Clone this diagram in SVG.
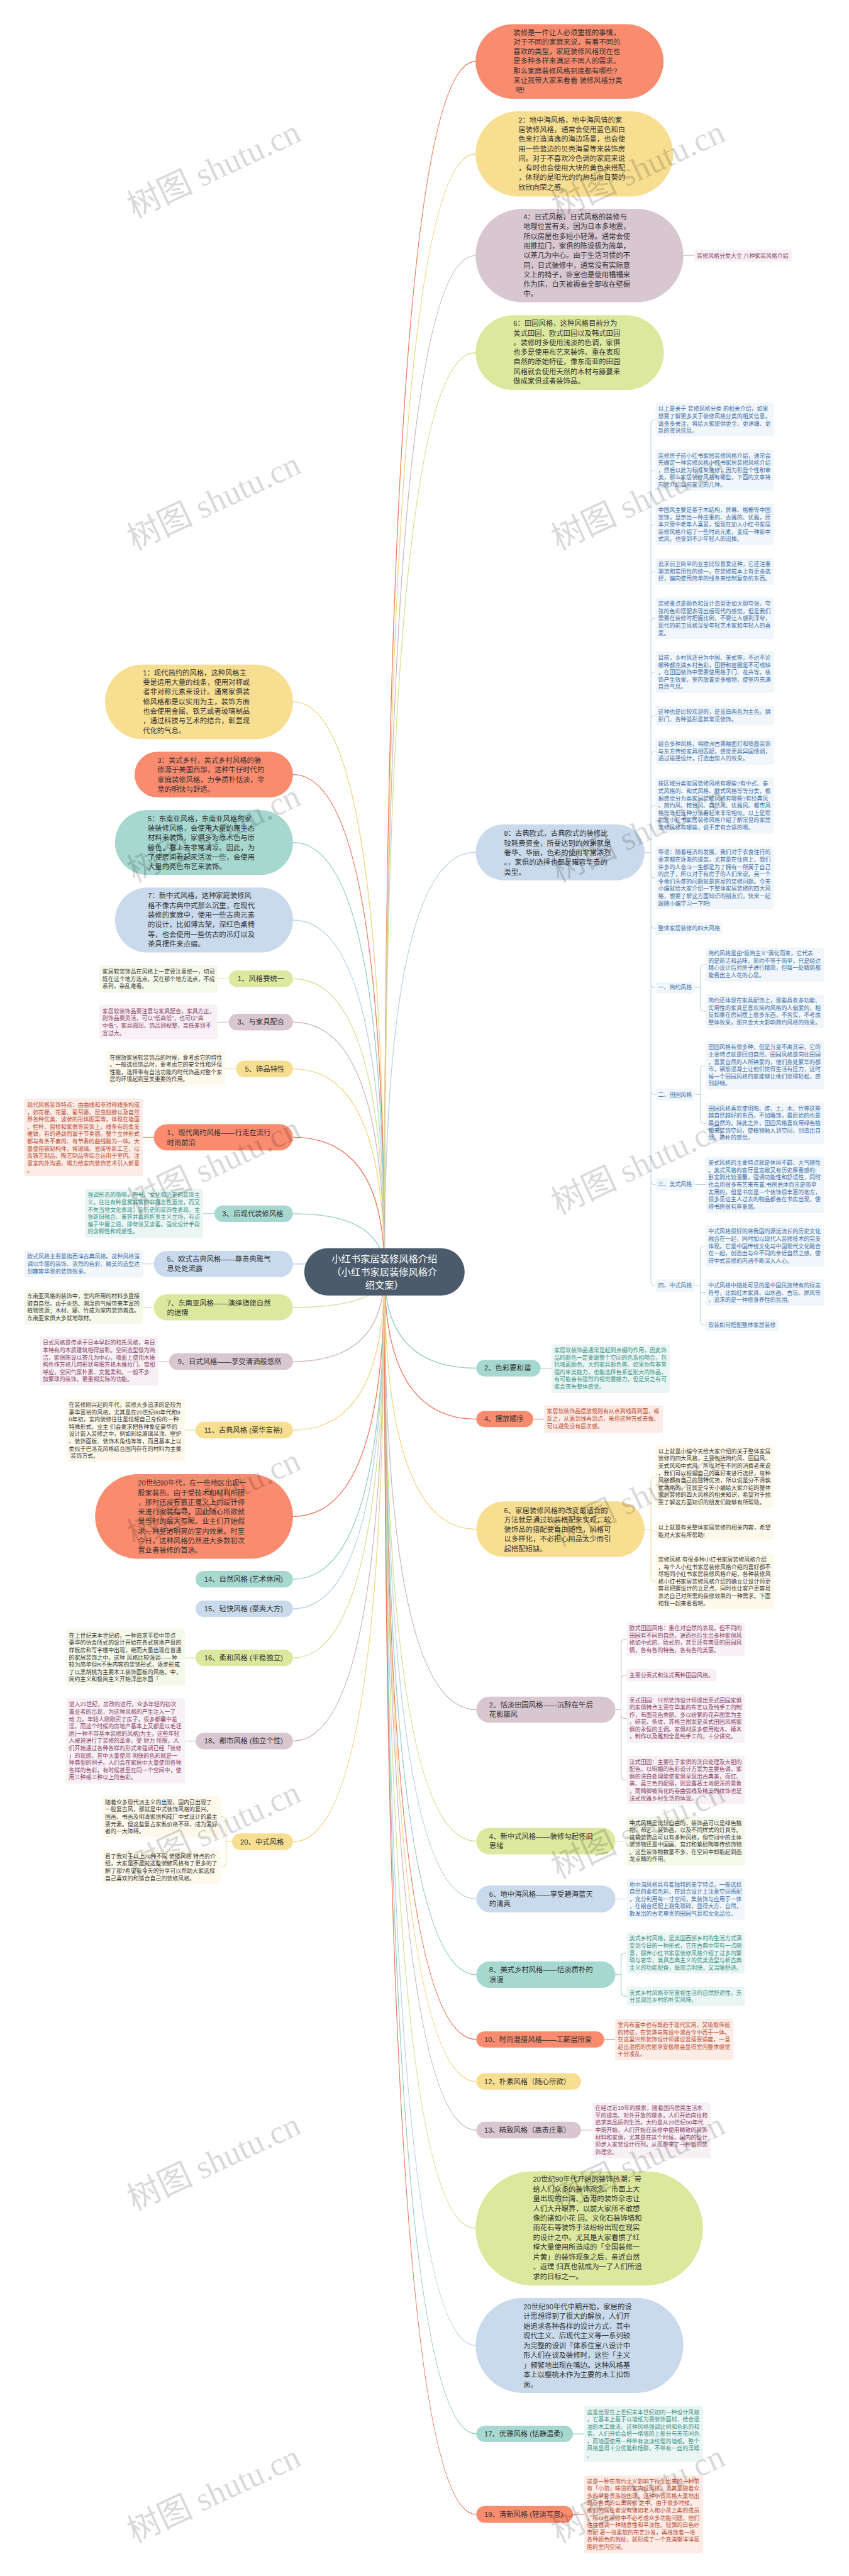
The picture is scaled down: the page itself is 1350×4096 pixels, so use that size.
<svg xmlns="http://www.w3.org/2000/svg" width="1350" height="4096" viewBox="0 0 1350 4096">
<style>
text{font-family:"Liberation Sans","Noto Sans CJK SC",sans-serif;dominant-baseline:central}
.t1{font-size:21.5px;fill:#333}
.t2{font-size:17px}
.rt{font-size:29px;fill:#fff;text-anchor:middle}
.fc{fill:#F98B6E}.fy{fill:#F8DE90}.fm{fill:#D8C6D1}.fg{fill:#DCE89E}.fb{fill:#C9DAEC}.ft{fill:#A6D8D0}
.bc{fill:#FDEBE6}.by{fill:#FEF9EA}.bm{fill:#F7F0F4}.bg{fill:#F5F9E9}.bb{fill:#F1F6FB}.bt{fill:#EBF6F4}
.xc{fill:#B84B30}.xy{fill:#3A3A3A}.xm{fill:#8C4268}.xg{fill:#3A3A3A}.xb{fill:#3D70A8}.xt{fill:#3A9489}
.l{fill:none;stroke-width:2.6}
.k{fill:none;stroke-width:2}
.sc{stroke:#EE7C60}.sy{stroke:#F2D684}.sm{stroke:#CDB8C5}.sg{stroke:#D2E290}.sb{stroke:#BBD0E6}.st{stroke:#92CCC4}
.wm{font-family:"Liberation Serif","Noto Sans CJK SC",serif;font-size:100px;fill:#000;fill-opacity:.15;text-anchor:middle}
</style>
<rect width="1350" height="4096" fill="#fff"/>
<g transform="scale(0.527)">
<g id="connectors">
<path class="l sc" d="M1160 3837Q1160 185.5 1435 185.5"/>
<path class="l sy" d="M1160 3837Q1160 464.5 1435 464.5"/>
<path class="l sm" d="M1160 3837Q1160 771 1435 771"/>
<path class="l sg" d="M1160 3837Q1160 1064 1435 1064"/>
<path class="l sb" d="M1160 3837Q1160 2571.5 1435 2571.5"/>
<path class="l st" d="M1160 3837Q1160 4128 1437 4128"/>
<path class="l sc" d="M1160 3837Q1160 4281.5 1437 4281.5"/>
<path class="l sy" d="M1160 3837Q1160 4614 1437 4614"/>
<path class="l sm" d="M1160 3837Q1160 5158.5 1437 5158.5"/>
<path class="l sg" d="M1160 3837Q1160 5555 1437 5555"/>
<path class="l sb" d="M1160 3837Q1160 5729.5 1437 5729.5"/>
<path class="l st" d="M1160 3837Q1160 5958 1437 5958"/>
<path class="l sc" d="M1160 3837Q1160 6153.5 1437 6153.5"/>
<path class="l sy" d="M1160 3837Q1160 6280 1437 6280"/>
<path class="l sm" d="M1160 3837Q1160 6427 1437 6427"/>
<path class="l sg" d="M1160 3837Q1160 6723.5 1435 6723.5"/>
<path class="l sb" d="M1160 3837Q1160 7076.5 1435 7076.5"/>
<path class="l st" d="M1160 3837Q1160 7343.5 1437 7343.5"/>
<path class="l sc" d="M1160 3837Q1160 7586.5 1437 7586.5"/>
<path class="l sy" d="M1160 3837Q1160 2117.5 884 2117.5"/>
<path class="l sc" d="M1160 3837Q1160 2337 884 2337"/>
<path class="l st" d="M1160 3837Q1160 2542 884 2542"/>
<path class="l sb" d="M1160 3837Q1160 2776 884 2776"/>
<path class="l sg" d="M1160 3837Q1160 2953 884 2953"/>
<path class="l sm" d="M1160 3837Q1160 3084 884 3084"/>
<path class="l sy" d="M1160 3837Q1160 3225 884 3225"/>
<path class="l sc" d="M1160 3837Q1160 3431.5 884 3431.5"/>
<path class="l st" d="M1160 3837Q1160 3662 884 3662"/>
<path class="l sb" d="M1160 3837Q1160 3813.5 884 3813.5"/>
<path class="l sg" d="M1160 3837Q1160 3944.5 884 3944.5"/>
<path class="l sm" d="M1160 3837Q1160 4108 884 4108"/>
<path class="l sy" d="M1160 3837Q1160 4315 884 4315"/>
<path class="l sc" d="M1160 3837Q1160 4575.5 884 4575.5"/>
<path class="l st" d="M1160 3837Q1160 4765 884 4765"/>
<path class="l sb" d="M1160 3837Q1160 4854 884 4854"/>
<path class="l sg" d="M1160 3837Q1160 5002 884 5002"/>
<path class="l sm" d="M1160 3837Q1160 5253 884 5253"/>
<path class="l sy" d="M1160 3837Q1160 5557 884 5557"/>
<path class="k sm" d="M2062 771H2095"/>
<path class="k st" d="M1631 4128H1664"/>
<path class="k sc" d="M1609 4281.5H1642"/>
<path class="k sg" d="M1857 5555H1891"/>
<path class="k sb" d="M1857 5729.5H1891"/>
<path class="k sc" d="M1823 6153.5H1856"/>
<path class="k sm" d="M1753 6427H1788"/>
<path class="k st" d="M1729 7343.5H1763"/>
<path class="k sc" d="M1729 7586.5H1763"/>
<path class="k sb" d="M2096 3574H2129"/>
<path class="k sg" d="M690 2953H657"/>
<path class="k sm" d="M690 3084H657"/>
<path class="k sy" d="M712 3225H679"/>
<path class="k sc" d="M464 3431.5H431"/>
<path class="k st" d="M647 3662H612"/>
<path class="k sb" d="M464 3813.5H431"/>
<path class="k sg" d="M464 3944.5H431"/>
<path class="k sm" d="M510 4108H478"/>
<path class="k sy" d="M590 4315H558"/>
<path class="k sg" d="M590 5002H558"/>
<path class="k sm" d="M590 5253H558"/>
<path class="k sb" d="M1945 2571.5H1964M1964 1278V3867M1964 1278Q1964 1266 1976 1266H1978M1964 1430.5Q1964 1418.5 1976 1418.5H1978M1964 1594Q1964 1582 1976 1582H1978M1964 1735.5Q1964 1723.5 1976 1723.5H1978M1964 1877.5Q1964 1865.5 1976 1865.5H1978M1964 2040Q1964 2028 1976 2028H1978M1964 2171Q1964 2159 1976 2159H1978M1964 2279Q1964 2267 1976 2267H1978M1964 2442.5Q1964 2430.5 1976 2430.5H1978M1964 2636.5Q1964 2648.5 1976 2648.5H1978M1964 2789Q1964 2801 1976 2801H1978M1964 2968Q1964 2980 1976 2980H1978M1964 3290.5Q1964 3302.5 1976 3302.5H1978M1964 3562Q1964 3574 1976 3574H1978M1964 3867Q1964 3879 1976 3879H1978"/>
<path class="k sb" d="M2096 2980H2113M2113 2922.5V3039.5M2113 2922.5Q2113 2910.5 2125 2910.5H2129M2113 3039.5Q2113 3051.5 2125 3051.5H2129"/>
<path class="k sb" d="M2096 3302.5H2113M2113 3226.5V3377.5M2113 3226.5Q2113 3214.5 2125 3214.5H2129M2113 3377.5Q2113 3389.5 2125 3389.5H2129"/>
<path class="k sb" d="M2096 3879H2113M2113 3771.5V3986M2113 3771.5Q2113 3759.5 2125 3759.5H2129M2113 3900.5H2129M2113 3986Q2113 3998 2125 3998H2129"/>
<path class="k sy" d="M1945 4614H1964M1964 4467.5V4759.5M1964 4467.5Q1964 4455.5 1976 4455.5H1978M1964 4619H1978M1964 4759.5Q1964 4771.5 1976 4771.5H1978"/>
<path class="k sm" d="M1857 5158.5H1874M1874 4958V5358.5M1874 4958Q1874 4946 1886 4946H1891M1874 5066.5Q1874 5054.5 1886 5054.5H1891M1874 5173Q1874 5185 1886 5185H1891M1874 5358.5Q1874 5370.5 1886 5370.5H1891"/>
<path class="k st" d="M1857 5958H1874M1874 5904.5V6011M1874 5904.5Q1874 5892.5 1886 5892.5H1891M1874 6011Q1874 6023 1886 6023H1891"/>
<path class="k sy" d="M700 5557H682M682 5493V5621M682 5493Q682 5481 670 5481H666M682 5621Q682 5633 670 5633H666"/>
</g>
<g id="R1"><rect class="fc" x="1435" y="73" width="567" height="225" rx="112.5"/><text class="t1"><tspan x="1549" y="98">装修是一件让人必须重视的事情，</tspan><tspan x="1549" y="127">对于不同的家庭来说，有着不同的</tspan><tspan x="1549" y="156">喜欢的类型，家庭装修风格现在也</tspan><tspan x="1549" y="185">是多种多样来满足不同人的需求。</tspan><tspan x="1549" y="214">那么家庭装修风格到底都有哪些?</tspan><tspan x="1549" y="243">来让我带大家来看看 装修风格分类</tspan><tspan x="1555" y="272">吧!</tspan></text></g>
<g id="R2"><rect class="fy" x="1435" y="336" width="596" height="257" rx="128.5"/><text class="t1"><tspan x="1564" y="362">2：地中海风格，地中海风情的家</tspan><tspan x="1564" y="391">居装修风格，通常会使用蓝色和白</tspan><tspan x="1564" y="420">色来打造清逸的海边场景，也会使</tspan><tspan x="1564" y="449">用一些蓝边的贝壳海星等来装饰房</tspan><tspan x="1564" y="478">间。对于不喜欢冷色调的家庭来说</tspan><tspan x="1564" y="507">，有时也会使用大块的黄色来搭配</tspan><tspan x="1564" y="536">，体现的是阳光的灼热与向日葵的</tspan><tspan x="1564" y="565">欣欣向荣之感。</tspan></text></g>
<g id="R3"><rect class="fm" x="1435" y="630" width="627" height="282" rx="141"/><text class="t1"><tspan x="1579" y="655">4：日式风格，日式风格的装修与</tspan><tspan x="1579" y="684">地理位置有关，因为日本多地震，</tspan><tspan x="1579" y="713">所以房屋也多短小轻薄。通常会使</tspan><tspan x="1579" y="742">用推拉门，家俱的陈设极为简单，</tspan><tspan x="1579" y="771">以茶几为中心。由于生活习惯的不</tspan><tspan x="1579" y="800">同，日式装修中，通常没有实际意</tspan><tspan x="1579" y="829">义上的椅子，卧室也是使用榻榻米</tspan><tspan x="1579" y="858">作为床，白天被褥会全部收在壁橱</tspan><tspan x="1579" y="887">中。</tspan></text></g>
<g id="R3c"><rect class="bm" x="2095" y="753" width="294" height="37" rx="6"/><text class="t2 xm" x="2103" y="771.5">装修风格分类大全 八种家装风格介绍</text></g>
<g id="R4"><rect class="fg" x="1435" y="951" width="568" height="226" rx="113"/><text class="t1"><tspan x="1549" y="976">6：田园风格，这种风格目前分为</tspan><tspan x="1549" y="1005">美式田园、欧式田园以及韩式田园</tspan><tspan x="1549" y="1034">。装修时多使用浅淡的色调，家俱</tspan><tspan x="1549" y="1063">也多是使用布艺来装饰。重在表现</tspan><tspan x="1549" y="1092">自然的原始特征，像东南亚的田园</tspan><tspan x="1549" y="1121">风格就会使用天然的木材与籐蔓来</tspan><tspan x="1549" y="1150">做成家俱或者装饰品。</tspan></text></g>
<g id="R5"><rect class="fb" x="1435" y="2487" width="510" height="169" rx="84.5"/><text class="t1"><tspan x="1521" y="2515">8：古典欧式，古典欧式的装修比</tspan><tspan x="1521" y="2544">较耗费资金，所要达到的效果就是</tspan><tspan x="1521" y="2573">奢华、华丽，色彩的使用非常浓烈</tspan><tspan x="1521" y="2602">。，家俱的选择也都是雍容华贵的</tspan><tspan x="1521" y="2631">类型。</tspan></text></g>
<g id="C1"><rect class="bb" x="1978" y="1215" width="357" height="102" rx="6"/><text class="t2 xb"><tspan x="1986" y="1234">以上是关于 装修风格分类 的相关介绍，如果</tspan><tspan x="1986" y="1256">想要了解更多关于装修风格分类的相关信息，</tspan><tspan x="1986" y="1278">请多多关注，将给大家提供更全、更详细、更</tspan><tspan x="1986" y="1300">新的资讯信息。</tspan></text></g>
<g id="C2"><rect class="bb" x="1978" y="1356" width="357" height="125" rx="6"/><text class="t2 xb"><tspan x="1986" y="1375">装修房子前小红书家居装修风格介绍，通常会</tspan><tspan x="1986" y="1397">先确定一种装修风格小红书家居装修风格介绍</tspan><tspan x="1986" y="1419">，然后以此为标准来装修，因为彰显个性和审</tspan><tspan x="1986" y="1441">美，那么家居装修风格有哪些，下面的文章将</tspan><tspan x="1986" y="1463">向您介绍目前常见的几种。</tspan></text></g>
<g id="C3"><rect class="bb" x="1978" y="1520" width="357" height="124" rx="6"/><text class="t2 xb"><tspan x="1986" y="1539">中国风主要是基于木结构，屏幕、格栅等中国</tspan><tspan x="1986" y="1561">装饰，显示出一种庄重的、古雅的、优雅，原</tspan><tspan x="1986" y="1583">本只受中老年人喜爱，但现在加入小红书家居</tspan><tspan x="1986" y="1605">装修风格介绍了一些时尚元素，变成一种新中</tspan><tspan x="1986" y="1627">式风，也受到不少年轻人的追捧。</tspan></text></g>
<g id="C4"><rect class="bb" x="1978" y="1683" width="357" height="81" rx="6"/><text class="t2 xb"><tspan x="1986" y="1702">追求前卫简单的业主比较喜爱这种，它还注重</tspan><tspan x="1986" y="1724">潮流和实用性的统一，在装修成本上有更多选</tspan><tspan x="1986" y="1746">择，偏向使用简单的线条来绘制复杂的东西。</tspan></text></g>
<g id="C5"><rect class="bb" x="1978" y="1803" width="357" height="125" rx="6"/><text class="t2 xb"><tspan x="1986" y="1822">装修重点是颜色和设计造型更加大胆夸张。夸</tspan><tspan x="1986" y="1844">张的色彩搭配表现出后现代的感觉，但是我们</tspan><tspan x="1986" y="1866">需要在装修时把握比例，不要让人感到浮夸，</tspan><tspan x="1986" y="1888">现代的前卫风格深受年轻艺术家和年轻人的喜</tspan><tspan x="1986" y="1910">爱。</tspan></text></g>
<g id="C6"><rect class="bb" x="1978" y="1966" width="357" height="124" rx="6"/><text class="t2 xb"><tspan x="1986" y="1985">目前，乡村风还分为中国、美式等，不过不论</tspan><tspan x="1986" y="2007">哪种都充满乡村色彩，田野和苗圃是不可或缺</tspan><tspan x="1986" y="2029">，在田园装饰中需要使用格子门、花卉等。装</tspan><tspan x="1986" y="2051">饰产生效果，室内放置更多植物，使室内充满</tspan><tspan x="1986" y="2073">自然气息。</tspan></text></g>
<g id="C7"><rect class="bb" x="1978" y="2129" width="357" height="60" rx="6"/><text class="t2 xb"><tspan x="1986" y="2148">这种也是比较欢迎的，是蓝白两色为主色，拱</tspan><tspan x="1986" y="2170">形门、各种弧形是其常见装饰。</tspan></text></g>
<g id="C8"><rect class="bb" x="1978" y="2227" width="357" height="80" rx="6"/><text class="t2 xb"><tspan x="1986" y="2245">组合多种风格，将欧洲古典釉面灯和墙面装饰</tspan><tspan x="1986" y="2267">与东方传统家具相匹配，感觉更具异国情调，</tspan><tspan x="1986" y="2289">通过碰撞设计，打造出惊人的效果。</tspan></text></g>
<g id="C9"><rect class="bb" x="1978" y="2346" width="357" height="169" rx="6"/><text class="t2 xb"><tspan x="1986" y="2365">按区域分类家居装修风格有哪些?有中式、泰</tspan><tspan x="1986" y="2387">式风格的、和式风格、欧式风格等等分类，根</tspan><tspan x="1986" y="2409">据感觉分为类家居装修风格有哪些?有经典风</tspan><tspan x="1986" y="2431">、简约风、精致风、自然风、优雅风、都市风</tspan><tspan x="1986" y="2453">格等等但这种分法看起来非常相似。以上是帮</tspan><tspan x="1986" y="2475">助您小红书家居装修风格介绍了解常见的家居</tspan><tspan x="1986" y="2497">装修风格有哪些，说不定有合适的哦。</tspan></text></g>
<g id="C10"><rect class="bb" x="1978" y="2554" width="357" height="189" rx="6"/><text class="t2 xb"><tspan x="1986" y="2572">导语：随着经济的发展，我们对于衣食住行的</tspan><tspan x="1986" y="2594">要求都在逐渐的提高，尤其是在住房上，我们</tspan><tspan x="1986" y="2616">许多的人奋斗一生都是为了拥有一所属于自己</tspan><tspan x="1986" y="2638">的房子，所以对于有房子的人们来说，另一个</tspan><tspan x="1986" y="2660">令他们头疼的问题就是房屋的装修问题。今天</tspan><tspan x="1986" y="2682">小编就给大家介绍一下整体家居装修的四大风</tspan><tspan x="1986" y="2704">格，想要了解这方面知识的朋友们，快来一起</tspan><tspan x="1986" y="2726">跟随小编学习一下吧!</tspan></text></g>
<g id="C11"><rect class="bb" x="1978" y="2782" width="202" height="38" rx="6"/><text class="t2 xb" x="1986" y="2801">整体家居装修的四大风格</text></g>
<g id="C12"><rect class="bb" x="1978" y="2962" width="118" height="36" rx="6"/><text class="t2 xb" x="1986" y="2980">一、简约风格</text></g>
<g id="C12a"><rect class="bb" x="2129" y="2859" width="357" height="103" rx="6"/><text class="t2 xb"><tspan x="2137" y="2877">简约风格是由“极简主义”演化而来，它代表</tspan><tspan x="2137" y="2899">的是简洁和品味。简约不等于简单，只是经过</tspan><tspan x="2137" y="2921">精心设计后对房子进行精简，但每一处精简都</tspan><tspan x="2137" y="2943">能看出主人花的心思。</tspan></text></g>
<g id="C12b"><rect class="bb" x="2129" y="3000" width="357" height="103" rx="6"/><text class="t2 xb"><tspan x="2137" y="3019">简约还体现在家具配饰上，那些具有多功能、</tspan><tspan x="2137" y="3041">实用性的家具是喜欢简约风格的人偏爱的，相</tspan><tspan x="2137" y="3063">反如果在房间摆上很多东西，不务实，不考虑</tspan><tspan x="2137" y="3085">整体效果，那只会大大影响简约风格的效果。</tspan></text></g>
<g id="C13"><rect class="bb" x="1978" y="3284" width="118" height="37" rx="6"/><text class="t2 xb" x="1986" y="3303">二、田园风格</text></g>
<g id="C13a"><rect class="bb" x="2129" y="3141" width="357" height="147" rx="6"/><text class="t2 xb"><tspan x="2137" y="3160">田园风格有很多种，但是万变不离其宗，它的</tspan><tspan x="2137" y="3182">主要特点就是回归自然。田园风格是向往田园</tspan><tspan x="2137" y="3204">，喜爱自然的人所钟爱的，他们身处繁华的都</tspan><tspan x="2137" y="3226">市，钢筋混凝土让他们觉得生活有压力，这时</tspan><tspan x="2137" y="3248">候一个田园风格的家能够让他们觉得轻松，感</tspan><tspan x="2137" y="3270">到舒畅。</tspan></text></g>
<g id="C13b"><rect class="bb" x="2129" y="3327" width="357" height="125" rx="6"/><text class="t2 xb"><tspan x="2137" y="3345">田园风格喜欢使用陶、砖、土、木、竹等这些</tspan><tspan x="2137" y="3367">越自然越好的东西，不加雕饰，最原始的也是</tspan><tspan x="2137" y="3389">最自然的。除此之外，田园风格喜欢用绿色植</tspan><tspan x="2137" y="3411">物来装饰空间，使植物融入到空间，创造出自</tspan><tspan x="2137" y="3433">然、简朴的感觉。</tspan></text></g>
<g id="C14"><rect class="bb" x="1978" y="3555" width="118" height="38" rx="6"/><text class="t2 xb" x="1986" y="3574">三、美式风格</text></g>
<g id="C14a"><rect class="bb" x="2129" y="3489" width="357" height="171" rx="6"/><text class="t2 xb"><tspan x="2137" y="3509">美式风格的主要特点就是休闲不羁、大气随性</tspan><tspan x="2137" y="3531">。美式风格的客厅是宽敞又有历史厚重感的;</tspan><tspan x="2137" y="3553">卧室则比较温馨，强调功能性和舒适性，同时</tspan><tspan x="2137" y="3575">也会用很多布艺来布置;书房总体而言是简单</tspan><tspan x="2137" y="3597">实用的，但是书房是一个装饰很丰富的地方，</tspan><tspan x="2137" y="3619">很多见证主人过去的物品都会在书房出现，使</tspan><tspan x="2137" y="3641">得书房很有厚重感。</tspan></text></g>
<g id="C15"><rect class="bb" x="1978" y="3860" width="118" height="38" rx="6"/><text class="t2 xb" x="1986" y="3879">四、中式风格</text></g>
<g id="C15a"><rect class="bb" x="2129" y="3696" width="357" height="127" rx="6"/><text class="t2 xb"><tspan x="2137" y="3716">中式风格很好的将我国的源远流长的历史文化</tspan><tspan x="2137" y="3738">融合在一起，同时加以现代人装修技术的完美</tspan><tspan x="2137" y="3760">体现。它是中国传统文化与中国现代文化融合</tspan><tspan x="2137" y="3782">在一起，创造出与众不同的亲近自然之感，使</tspan><tspan x="2137" y="3804">得中式装修的内涵不断深入人心。</tspan></text></g>
<g id="C15b"><rect class="bb" x="2129" y="3860" width="357" height="81" rx="6"/><text class="t2 xb"><tspan x="2137" y="3879">中式风格中随处可见的是中国民族特有的标志</tspan><tspan x="2137" y="3901">符号，比如红木家具、山水画、古玩、屏风等</tspan><tspan x="2137" y="3923">，追求的是一种修身养性的氛围。</tspan></text></g>
<g id="C15c"><rect class="bb" x="2129" y="3980" width="220" height="36" rx="6"/><text class="t2 xb" x="2137" y="3998">软装如何搭配整体家居装修</text></g>
<g id="R6"><rect class="ft" x="1437" y="4103" width="194" height="50" rx="25"/><text class="t1" x="1461" y="4128">2、色彩要和谐</text></g>
<g id="R6c"><rect class="bt" x="1664" y="4056" width="357" height="147" rx="6"/><text class="t2 xt"><tspan x="1672" y="4074">家居软装饰品通常是起到点缀的作用，因此饰</tspan><tspan x="1672" y="4096">品的颜色一定要跟整个空间的色系相吻合，包</tspan><tspan x="1672" y="4118">括墙面颜色，大的家具颜色等。如果你有非常</tspan><tspan x="1672" y="4140">强的审美能力，也能选择色系差别大的饰品，</tspan><tspan x="1672" y="4162">有可能会有强烈的视觉震撼力，但是反之有可</tspan><tspan x="1672" y="4184">能会丧失整体感觉。</tspan></text></g>
<g id="R7"><rect class="fc" x="1437" y="4257" width="172" height="49" rx="24.5"/><text class="t1" x="1461" y="4281.5">4、摆放顺序</text></g>
<g id="R7c"><rect class="bc" x="1642" y="4240" width="358" height="83" rx="6"/><text class="t2 xc"><tspan x="1650" y="4259">家居软装饰品摆放规则有从点到线再到面，或</tspan><tspan x="1650" y="4281">反之，从面到线再到点，采用这种方式去做，</tspan><tspan x="1650" y="4303">可以避免没有层次感。</tspan></text></g>
<g id="R8"><rect class="fy" x="1437" y="4530" width="508" height="168" rx="84"/><text class="t1"><tspan x="1521" y="4557">6、家居装修风格的改变最适合的</tspan><tspan x="1521" y="4586">方法就是通过软装搭配来实现，软</tspan><tspan x="1521" y="4615">装饰品的搭配要自由随性，风格可</tspan><tspan x="1521" y="4644">以多样化，不必担心用品太少而引</tspan><tspan x="1521" y="4673">起搭配短缺。</tspan></text></g>
<g id="R8a"><rect class="by" x="1978" y="4360" width="357" height="191" rx="6"/><text class="t2 xy"><tspan x="1986" y="4379">以上就是小编今天给大家介绍的关于整体家居</tspan><tspan x="1986" y="4401">装修的四大风格，主要包括简约风、田园风、</tspan><tspan x="1986" y="4423">美式风和中式风，所以对于不同的消费者来说</tspan><tspan x="1986" y="4445">，我们可以根据自己的喜好来进行选择，每种</tspan><tspan x="1986" y="4467">风格都有自己的独特优势，所以说是分不清孰</tspan><tspan x="1986" y="4489">优孰略的，这就是今天小编给大家介绍的整体</tspan><tspan x="1986" y="4511">家居装修的四大风格的相关知识，希望对于想</tspan><tspan x="1986" y="4533">要了解这方面知识的朋友们能够有所帮助。</tspan></text></g>
<g id="R8b"><rect class="by" x="1978" y="4590" width="357" height="58" rx="6"/><text class="t2 xy"><tspan x="1986" y="4609">以上就是有关整体家居装修的相关内容，希望</tspan><tspan x="1986" y="4631">能对大家有所帮助!</tspan></text></g>
<g id="R8c"><rect class="by" x="1978" y="4688" width="357" height="167" rx="6"/><text class="t2 xy"><tspan x="1986" y="4706">装修风格 有很多种小红书家居装修风格介绍</tspan><tspan x="1986" y="4728">，每个人小红书家居装修风格介绍的喜好都不</tspan><tspan x="1986" y="4750">尽相同小红书家居装修风格介绍，各种装修风</tspan><tspan x="1986" y="4772">格小红书家居装修风格介绍的确立让设计师更</tspan><tspan x="1986" y="4794">容易把握设计的立足点，同时也让客户更容易</tspan><tspan x="1986" y="4816">表达自己对所需的装修效果的一种需求。下面</tspan><tspan x="1986" y="4838">和我一起来看看吧。</tspan></text></g>
<g id="R9"><rect class="fm" x="1437" y="5119" width="420" height="79" rx="39.5"/><text class="t1"><tspan x="1476" y="5144">2、恬淡田园风格——沉醉在午后</tspan><tspan x="1476" y="5173">花影籐风</tspan></text></g>
<g id="R9a"><rect class="bm" x="1891" y="4895" width="356" height="102" rx="6"/><text class="t2 xm"><tspan x="1899" y="4913">欧式田园风格：重在对自然的表现，但不同的</tspan><tspan x="1899" y="4935">田园有不同的自然，进而也衍生出多种家俱风</tspan><tspan x="1899" y="4957">格如中式的、欧式的，甚至还有南亚的田园风</tspan><tspan x="1899" y="4979">情，各有各的特色，各有各的美丽。</tspan></text></g>
<g id="R9b"><rect class="bm" x="1891" y="5036" width="271" height="37" rx="6"/><text class="t2 xm" x="1899" y="5054.5">主要分英式和法式两种田园风格。</text></g>
<g id="R9c"><rect class="bm" x="1891" y="5112" width="356" height="146" rx="6"/><text class="t2 xm"><tspan x="1899" y="5130">英式田园：兴邦装饰设计师提出英式田园家俱</tspan><tspan x="1899" y="5152">的家俱特点主要在华美的布艺以及纯手工的制</tspan><tspan x="1899" y="5174">作，布面花色秀丽，多以纷繁的花卉图案为主</tspan><tspan x="1899" y="5196">，碎花、条纹、苏格兰图案是英式田园风格家</tspan><tspan x="1899" y="5218">俱的永恒的主调。家俱材质多使用松木、椿木</tspan><tspan x="1899" y="5240">，制作以及雕刻全是纯手工的，十分讲究。</tspan></text></g>
<g id="R9d"><rect class="bm" x="1891" y="5298" width="356" height="145" rx="6"/><text class="t2 xm"><tspan x="1899" y="5316">法式田园：主要在于家俱的洗白处理及大胆的</tspan><tspan x="1899" y="5338">配色，以明媚的色彩设计方案为主要色调，家</tspan><tspan x="1899" y="5360">俱的洗白处理能使家俱呈现出古典美，而红、</tspan><tspan x="1899" y="5382">黄、蓝三色的配搭，则显露著土地肥沃的景象</tspan><tspan x="1899" y="5404">，而椅脚被简化的卷曲弧线及精美的纹饰也是</tspan><tspan x="1899" y="5426">法式优雅乡村生活的体现。</tspan></text></g>
<g id="R10"><rect class="fg" x="1437" y="5515" width="420" height="80" rx="40"/><text class="t1"><tspan x="1476" y="5540">4、新中式风格——装修勾起怀旧</tspan><tspan x="1476" y="5569">思绪</tspan></text></g>
<g id="R10c"><rect class="bg" x="1891" y="5482" width="356" height="147" rx="6"/><text class="t2 xg"><tspan x="1899" y="5500">中式风格是比较自由的，装饰品可以是绿色植</tspan><tspan x="1899" y="5522">物、布艺、装饰画，以及不同样式的灯具等。</tspan><tspan x="1899" y="5544">这些装饰品可以有多种风格，但空间中的主体</tspan><tspan x="1899" y="5566">装饰物还是中国画、宫灯和紫砂陶等传统饰物</tspan><tspan x="1899" y="5588">。这些装饰物数量不多，在空间中却能起到画</tspan><tspan x="1899" y="5610">龙点睛的作用。</tspan></text></g>
<g id="R11"><rect class="fb" x="1437" y="5689" width="420" height="81" rx="40.5"/><text class="t1"><tspan x="1476" y="5715">6、地中海风格——享受碧海蓝天</tspan><tspan x="1476" y="5744">的清爽</tspan></text></g>
<g id="R11c"><rect class="bb" x="1891" y="5667" width="356" height="125" rx="6"/><text class="t2 xb"><tspan x="1899" y="5686">地中海风格具有着独特的美学特点。一般选择</tspan><tspan x="1899" y="5708">自然的柔和色彩，在组合设计上注意空间搭配</tspan><tspan x="1899" y="5730">，充分利用每一寸空间，集装饰与应用于一体</tspan><tspan x="1899" y="5752">，在组合搭配上避免琐碎，显得大方、自然，</tspan><tspan x="1899" y="5774">散发出的古老尊贵的田园气息和文化品位。</tspan></text></g>
<g id="R12"><rect class="ft" x="1437" y="5918" width="420" height="80" rx="40"/><text class="t1"><tspan x="1476" y="5944">8、美式乡村风格——恬淡质朴的</tspan><tspan x="1476" y="5973">浪漫</tspan></text></g>
<g id="R12a"><rect class="bt" x="1891" y="5830" width="356" height="125" rx="6"/><text class="t2 xt"><tspan x="1899" y="5849">美式乡村风格，是美国西部乡村的生活方式演</tspan><tspan x="1899" y="5871">变到今日的一种形式，它在古典中带有一点随</tspan><tspan x="1899" y="5893">意，摒弃小红书家居装修风格介绍了过多的繁</tspan><tspan x="1899" y="5915">琐与奢华，兼具古典主义的优美造型与新古典</tspan><tspan x="1899" y="5937">主义的功能配备，既简洁明快，又温暖舒适。</tspan></text></g>
<g id="R12b"><rect class="bt" x="1891" y="5994" width="356" height="58" rx="6"/><text class="t2 xt"><tspan x="1899" y="6013">美式乡村风格非常重视生活的自然舒适性，充</tspan><tspan x="1899" y="6035">分显现出乡村的朴实风味。</tspan></text></g>
<g id="R13"><rect class="fc" x="1437" y="6129" width="386" height="49" rx="24.5"/><text class="t1" x="1461" y="6154">10、时尚混搭风格——工薪层所爱</text></g>
<g id="R13c"><rect class="bc" x="1856" y="6091" width="357" height="125" rx="6"/><text class="t2 xc"><tspan x="1864" y="6110">室内布置中也有既趋于现代实用，又吸取传统</tspan><tspan x="1864" y="6132">的特征，在装潢与陈设中溶古今中西于一体。</tspan><tspan x="1864" y="6154">在这里兴邦装饰设计师建议混搭要适度，一旦</tspan><tspan x="1864" y="6176">超出混搭的房屋承受极限会显得室内整体感觉</tspan><tspan x="1864" y="6198">十分凌乱。</tspan></text></g>
<g id="R14"><rect class="fy" x="1437" y="6255" width="316" height="50" rx="25"/><text class="t1" x="1461" y="6280">12、朴素风格（随心所欲）</text></g>
<g id="R15"><rect class="fm" x="1437" y="6402" width="316" height="50" rx="25"/><text class="t1" x="1461" y="6427">13、精致风格（高贵庄重）</text></g>
<g id="R15c"><rect class="bm" x="1788" y="6343" width="356" height="169" rx="6"/><text class="t2 xm"><tspan x="1796" y="6361">在经过近10年的摸索，随着国内居民生活水</tspan><tspan x="1796" y="6383">平的提高、对外开放的增多，人们开始向往和</tspan><tspan x="1796" y="6405">追求高品质的生活。大约是从20世纪90年代</tspan><tspan x="1796" y="6427">中期开始，人们开始在装修中使用精致的装饰</tspan><tspan x="1796" y="6449">材料和家俱，尤其是在这个时候，国内的设计</tspan><tspan x="1796" y="6471">师步入家装设计行列，从而带来了一种新的装</tspan><tspan x="1796" y="6493">饰理念。</tspan></text></g>
<g id="R16"><rect class="fg" x="1435" y="6551" width="686" height="345" rx="172.5"/><text class="t1"><tspan x="1608" y="6575">20世纪90年代开始的装饰热潮，带</tspan><tspan x="1608" y="6604.4">给人们众多的装饰观念。市面上大</tspan><tspan x="1608" y="6633.8">量出现的台湾、香港的装饰杂志让</tspan><tspan x="1608" y="6663.2">人们大开眼界，以前大家所不敢想</tspan><tspan x="1608" y="6692.6">像的诸如小花 园、文化石装饰墙和</tspan><tspan x="1608" y="6722">雨花石等装饰手法纷纷出现在现实</tspan><tspan x="1608" y="6751.4">的设计之中。尤其是大家看惯了红</tspan><tspan x="1608" y="6780.8">榉大量使用所造成的「全国装修一</tspan><tspan x="1608" y="6810.2">片黄」的装饰现象之后，亲近自然</tspan><tspan x="1608" y="6839.6">、返璞 归真也就成为一了人们所追</tspan><tspan x="1608" y="6869">求的目标之一。</tspan></text></g>
<g id="R17"><rect class="fb" x="1435" y="6933" width="627" height="287" rx="143.5"/><text class="t1"><tspan x="1579" y="6960">20世纪90年代中期开始，家居的设</tspan><tspan x="1579" y="6989.4">计思想得到了很大的解放，人们开</tspan><tspan x="1579" y="7018.8">始追求各种各样的设计方式，其中</tspan><tspan x="1579" y="7048.2">现代主义、后现代主义等一系列较</tspan><tspan x="1579" y="7077.6">为完整的设训『体系住室八设计中</tspan><tspan x="1579" y="7107">形人们在谈及装修时，这些「主义</tspan><tspan x="1579" y="7136.4">」频繁地出现在嘴边。这种风格基</tspan><tspan x="1579" y="7165.8">本上以樱桃木作为主要的木工扣饰</tspan><tspan x="1579" y="7195.2">面。</tspan></text></g>
<g id="R18"><rect class="ft" x="1437" y="7319" width="292" height="49" rx="24.5"/><text class="t1" x="1461" y="7343.5">17、优雅风格 (恬静温柔)</text></g>
<g id="R18c"><rect class="bt" x="1763" y="7259" width="358" height="170" rx="6"/><text class="t2 xt"><tspan x="1771" y="7278">这是出现在上世纪末本世纪初的一种设计风格</tspan><tspan x="1771" y="7300">，它基本上基于以墙纸为要装饰面材、结合混</tspan><tspan x="1771" y="7322">油的木工做法。这种风格强调比例和色彩的和</tspan><tspan x="1771" y="7344">谐。人们开始会把一堵墙的上部分与天花同色</tspan><tspan x="1771" y="7366">，而墙面使用一种带有淡淡纹理的墙纸。整个</tspan><tspan x="1771" y="7388">风格显得十分优雅和恬静，不带有一丝的浮躁</tspan><tspan x="1771" y="7410">。</tspan></text></g>
<g id="R19"><rect class="fc" x="1437" y="7561" width="292" height="51" rx="25.5"/><text class="t1" x="1461" y="7586.5">19、清新风格 (轻淡写意)</text></g>
<g id="R19c"><rect class="bc" x="1763" y="7469" width="358" height="235" rx="6"/><text class="t2 xc"><tspan x="1771" y="7487">这是一种在简约主义影响下衍生出来的一种带</tspan><tspan x="1771" y="7509">有「小资」味道的室内设风格。尤其是随着众</tspan><tspan x="1771" y="7531">多的单身贵族的出现，这种小资风格大量地出</tspan><tspan x="1771" y="7553">现在各式的公寓装修 之中。由于很多时候，</tspan><tspan x="1771" y="7575">他们的居住者没有诸如老人和小孩之类的成员</tspan><tspan x="1771" y="7597">，所以在装修中不必考虑众多功能问题。他们</tspan><tspan x="1771" y="7619">往往强调一种随意性和平淡性。轻飘的白色纱</tspan><tspan x="1771" y="7641">市配 著一张柔软的布艺沙发，再堆放着一堆</tspan><tspan x="1771" y="7663">各种颜色的抱枕，就形成了一个充满懒洋洋氛</tspan><tspan x="1771" y="7685">围的室内空间。</tspan></text></g>
<g id="L1"><rect class="fy" x="317" y="2005" width="567" height="225" rx="112.5"/><text class="t1"><tspan x="431" y="2030">1：现代简约的风格，这种风格主</tspan><tspan x="431" y="2059">要是运用大量的线条，使用对称或</tspan><tspan x="431" y="2088">者非对称元素来设计。通常家俱装</tspan><tspan x="431" y="2117">修风格都是以实用为主，装饰方面</tspan><tspan x="431" y="2146">也会使用金属、铁艺或者玻璃制品</tspan><tspan x="431" y="2175">，通过科技与艺术的结合，彰显现</tspan><tspan x="431" y="2204">代化的气息。</tspan></text></g>
<g id="L2"><rect class="fc" x="406" y="2268" width="478" height="138" rx="69"/><text class="t1"><tspan x="475" y="2294">3：美式乡村，美式乡村风格的装</tspan><tspan x="475" y="2323">修源于美国西部，这种牛仔时代的</tspan><tspan x="475" y="2352">家庭装修风格，力争质朴恬淡，非</tspan><tspan x="475" y="2381">常的明快与舒适。</tspan></text></g>
<g id="L3"><rect class="ft" x="347" y="2444" width="537" height="196" rx="98"/><text class="t1"><tspan x="446" y="2470">5：东南亚风格，东南亚风格的家</tspan><tspan x="446" y="2499">装装修风格，会使用大量的原生态</tspan><tspan x="446" y="2528">材料来装饰，家俱多为原木色与原</tspan><tspan x="446" y="2557">籐色，看上去非常清凉。因此，为</tspan><tspan x="446" y="2586">了使房间看起来活泼一些，会使用</tspan><tspan x="446" y="2615">大量的亮色布艺来装饰。</tspan></text></g>
<g id="L4"><rect class="fb" x="347" y="2678" width="537" height="196" rx="98"/><text class="t1"><tspan x="446" y="2703">7：新中式风格，这种家庭装修风</tspan><tspan x="446" y="2732">格不像古典中式那么沉重，在现代</tspan><tspan x="446" y="2761">装修的家庭中，使用一些古典元素</tspan><tspan x="446" y="2790">的设计，比如博古架，深红色桌椅</tspan><tspan x="446" y="2819">等，也会使用一些仿古的吊灯以及</tspan><tspan x="446" y="2848">茶具摆件来点缀。</tspan></text></g>
<g id="L5"><rect class="fg" x="690" y="2928" width="194" height="50" rx="25"/><text class="t1" x="717" y="2953">1、风格要统一</text></g>
<g id="L5c"><rect class="bg" x="299" y="2912" width="358" height="83" rx="6"/><text class="t2 xg"><tspan x="309" y="2932">家居软装饰品在风格上一定要注意统一，切忌</tspan><tspan x="309" y="2954">既在这个地方选点，又在那个地方选点，不成</tspan><tspan x="309" y="2976">系列，杂乱难看。</tspan></text></g>
<g id="L6"><rect class="fm" x="690" y="3059" width="194" height="50" rx="25"/><text class="t1" x="717" y="3084">3、与家具配合</text></g>
<g id="L6c"><rect class="bm" x="299" y="3032" width="358" height="103" rx="6"/><text class="t2 xm"><tspan x="309" y="3051">家居软装饰品要注意与家具配合，家具方正，</tspan><tspan x="309" y="3073">则饰品要灵活，可以“低高低”，也可以“高</tspan><tspan x="309" y="3095">中低”，家具圆润，饰品则规整，高低差别不</tspan><tspan x="309" y="3117">宜过大。</tspan></text></g>
<g id="L7"><rect class="fy" x="712" y="3200" width="172" height="50" rx="25"/><text class="t1" x="739" y="3225">5、饰品特性</text></g>
<g id="L7c"><rect class="by" x="322" y="3171" width="357" height="105" rx="6"/><text class="t2 xy"><tspan x="331" y="3191">在摆放家居软装饰品的时候，要考虑它的特性</tspan><tspan x="331" y="3213">。一般选择饰品时，要考虑它的安全性和环保</tspan><tspan x="331" y="3235">性能，选择带有自洁功能的时代饰品对整个家</tspan><tspan x="331" y="3257">居的环境起到至关重要的作用。</tspan></text></g>
<g id="L8"><rect class="fc" x="464" y="3392" width="420" height="79" rx="39.5"/><text class="t1"><tspan x="504" y="3418">1、现代简约风格——行走在流行</tspan><tspan x="504" y="3447">时尚前沿</tspan></text></g>
<g id="L8c"><rect class="bc" x="73" y="3314" width="358" height="234" rx="6"/><text class="t2 xc"><tspan x="82" y="3334">现代风格装饰特点：由曲线和非对称线条构成</tspan><tspan x="82" y="3356">，如花梗、花蕾、葡萄籐、昆虫翅膀以及自然</tspan><tspan x="82" y="3378">界各种优美、波状的形体图案等，体现在墙面</tspan><tspan x="82" y="3400">、栏杆、窗棂和家俱等装饰上。线条有的柔美</tspan><tspan x="82" y="3422">雅致，有的遒劲而富于节奏感。整个立体形式</tspan><tspan x="82" y="3444">都与有条不紊的、有节奏的曲线融为一体。大</tspan><tspan x="82" y="3466">量使用铁制构件，将玻璃、瓷砖等新工艺，以</tspan><tspan x="82" y="3488">及铁艺制品、陶艺制品等综合运用于室内。注</tspan><tspan x="82" y="3510">意室内外沟通，竭力给室内装饰艺术引入新意</tspan><tspan x="82" y="3532">。</tspan></text></g>
<g id="L9"><rect class="ft" x="647" y="3637" width="237" height="50" rx="25"/><text class="t1" x="671" y="3662">3、后现代装修风格</text></g>
<g id="L9c"><rect class="bt" x="256" y="3587" width="356" height="148" rx="6"/><text class="t2 xt"><tspan x="264" y="3606">强调形态的隐喻、符号、文化和历史的装饰主</tspan><tspan x="264" y="3628">义。往往有种是雾非雾的非概念性直觉，而又</tspan><tspan x="264" y="3650">不失当地文化表现，及历史的装饰性表现。主</tspan><tspan x="264" y="3672">张新旧融合、兼容并蓄的折衷主义立场，有点</tspan><tspan x="264" y="3694">偏于中庸之道，即夸张又含蓄。强化设计手段</tspan><tspan x="264" y="3716">的含糊性和戏谑性。</tspan></text></g>
<g id="L10"><rect class="fb" x="464" y="3774" width="420" height="79" rx="39.5"/><text class="t1"><tspan x="504" y="3799">5、欧式古典风格——尊贵典雅气</tspan><tspan x="504" y="3828">息处处流露</tspan></text></g>
<g id="L10c"><rect class="bb" x="73" y="3772" width="358" height="83" rx="6"/><text class="t2 xb"><tspan x="82" y="3792">欧式风格主要是指西洋古典风格。这种风格强</tspan><tspan x="82" y="3814">调以华丽的装饰、浓烈的色彩、精美的造型达</tspan><tspan x="82" y="3836">到雍容华贵的装饰效果。</tspan></text></g>
<g id="L11"><rect class="fg" x="464" y="3905" width="420" height="79" rx="39.5"/><text class="t1"><tspan x="504" y="3931">7、东南亚风格——演绎旖旎自然</tspan><tspan x="504" y="3960">的迷情</tspan></text></g>
<g id="L11c"><rect class="bg" x="73" y="3892" width="358" height="104" rx="6"/><text class="t2 xg"><tspan x="82" y="3911">东南亚风格的装饰中，室内所用的材料多直接</tspan><tspan x="82" y="3933">取自自然。由于炎热、潮湿的气候带来丰富的</tspan><tspan x="82" y="3955">植物资源；木材、籐、竹成为室内装饰首选。</tspan><tspan x="82" y="3977">东南亚家俱大多就地取材。</tspan></text></g>
<g id="L12"><rect class="fm" x="510" y="4083" width="374" height="50" rx="25"/><text class="t1" x="536" y="4108">9、日式风格——享受清洒般悠然</text></g>
<g id="L12c"><rect class="bm" x="121" y="4033" width="357" height="148" rx="6"/><text class="t2 xm"><tspan x="129" y="4052">日式风格是传承于日本早起的和氏风格，与日</tspan><tspan x="129" y="4074">本特有的木质建筑相得益彰。空间造型极为简</tspan><tspan x="129" y="4096">洁、家俱陈设以茶几为中心，墙面上使用木质</tspan><tspan x="129" y="4118">构件作方格几何形状与细方格木推拉门、窗相</tspan><tspan x="129" y="4140">呼应，空间气氛朴素、文雅柔和。一般不多</tspan><tspan x="129" y="4162">加繁琐的装饰，更重视实际的功能。</tspan></text></g>
<g id="L13"><rect class="fy" x="590" y="4290" width="294" height="50" rx="25"/><text class="t1" x="616" y="4315">11、古典风格 (豪华富裕)</text></g>
<g id="L13c"><rect class="by" x="200" y="4220" width="358" height="191" rx="6"/><text class="t2 xy"><tspan x="208" y="4239">在装修刚兴起的年代，装修大多追求的是较为</tspan><tspan x="208" y="4261">豪华富裕的风格。尤其是在20世纪80年代和9</tspan><tspan x="208" y="4283">0年初，室内装修往往是炫耀自己身份的一种</tspan><tspan x="208" y="4305">特殊形式。业主 们会要求把各种象征豪华的</tspan><tspan x="208" y="4327">设计嵌入装修之中，例如彩绘玻璃吊顶、壁炉</tspan><tspan x="208" y="4349">、装饰面板、装饰木角线等等，而且基本上以</tspan><tspan x="208" y="4371">类似于巴洛克风格结合国内存在的材料为主要</tspan><tspan x="213" y="4393">装饰方式。</tspan></text></g>
<g id="L14"><rect class="fc" x="287" y="4448" width="597" height="255" rx="127.5"/><text class="t1"><tspan x="416" y="4475">20世纪90年代，在一些地区出现一</tspan><tspan x="416" y="4504">股家装热。由于受技术和材料所限</tspan><tspan x="416" y="4533">，那时还没有真正意义上的设计师</tspan><tspan x="416" y="4562">来进行家装指导，因此随心所欲就</tspan><tspan x="416" y="4591">是当时的最大写照。业主们开始假</tspan><tspan x="416" y="4620">求一种整洁明亮的室内效果。时至</tspan><tspan x="416" y="4649">今日，这种风格仍然进大多数初次</tspan><tspan x="416" y="4678">置业者装修的首选。</tspan></text></g>
<g id="L15"><rect class="ft" x="590" y="4740" width="294" height="50" rx="25"/><text class="t1" x="616" y="4765">14、自然风格 (艺术休闲)</text></g>
<g id="L16"><rect class="fb" x="590" y="4829" width="294" height="50" rx="25"/><text class="t1" x="616" y="4854">15、轻快风格 (豪爽大方)</text></g>
<g id="L17"><rect class="fg" x="590" y="4977" width="294" height="50" rx="25"/><text class="t1" x="616" y="5002">16、柔和风格 (平稳独立)</text></g>
<g id="L17c"><rect class="bg" x="200" y="4916" width="358" height="170" rx="6"/><text class="t2 xg"><tspan x="208" y="4935">在上世纪末本世纪初，一种追求平稳中带点</tspan><tspan x="208" y="4957">豪华的仿会所式的设计开始在各式房地产盘的</tspan><tspan x="208" y="4979">样板房和写字楼中出现，继而大量出现在普通</tspan><tspan x="208" y="5001">的家居装饰之中。这种 风格比较强调——种</tspan><tspan x="208" y="5023">较为简单但R不失内容的装饰形式，逐步形成</tspan><tspan x="208" y="5045">了以黑胡桃为主要木工装饰面板的风格。中，</tspan><tspan x="208" y="5067">简约主义和极简主义开始浮出水面『</tspan></text></g>
<g id="L18"><rect class="fm" x="590" y="5228" width="294" height="50" rx="25"/><text class="t1" x="616" y="5253">18、都市风格 (独立个性)</text></g>
<g id="L18c"><rect class="bm" x="200" y="5124" width="358" height="257" rx="6"/><text class="t2 xm"><tspan x="208" y="5143">进入21世纪，房改的进行，众多年轻的初次</tspan><tspan x="208" y="5165">置业者的出现，为这种风格的产生注入一了</tspan><tspan x="208" y="5187">动 力。年轻人刚刚买了房子，很多都囊中羞</tspan><tspan x="208" y="5209">涩，而这个时候的房地产基本上又都是以毛坯</tspan><tspan x="208" y="5231">房(一种不带基本装修的风格)为主，这些年轻</tspan><tspan x="208" y="5253">人被迫进行了装修的革命。受 财力 所限，人</tspan><tspan x="208" y="5275">们开始通过各种各样的形式来强调已经「装修</tspan><tspan x="208" y="5297">」的观感，其中大量使用 明快的色彩就是一</tspan><tspan x="208" y="5319">种典型的例子。人们会在家居中大量使用各种</tspan><tspan x="208" y="5341">各样的色彩，有时候甚至在同一个空间中，使</tspan><tspan x="208" y="5363">用三种或三种以上的色彩。</tspan></text></g>
<g id="L19"><rect class="fy" x="700" y="5532" width="184" height="50" rx="25"/><text class="t1" x="725" y="5557">20、中式风格</text></g>
<g id="L19a"><rect class="by" x="309" y="5419" width="357" height="124" rx="6"/><text class="t2 xy"><tspan x="317" y="5438">随着众多现代派主义的出现，国内已出现了</tspan><tspan x="317" y="5460">一股复古风，那就是中式装饰风格的复兴。</tspan><tspan x="317" y="5482">国画、书画及明清家俱构成厂中式设计的最主</tspan><tspan x="317" y="5504">要元素。但这些复占家俬价格不菲，成为爱好</tspan><tspan x="317" y="5526">者的一大障碍。</tspan></text></g>
<g id="L19b"><rect class="by" x="309" y="5582" width="357" height="102" rx="6"/><text class="t2 xy"><tspan x="317" y="5601">看了我对于以上20种不同 装修风格 特点的介</tspan><tspan x="317" y="5623">绍，大家是不是对这些装修风格有了更多的了</tspan><tspan x="317" y="5645">解了那?希望我今天的分享可以帮助大家选择</tspan><tspan x="317" y="5667">自己喜欢的和适合自己的装修风格。</tspan></text></g>
<g id="root"><rect x="918" y="3766" width="484" height="143" rx="71.5" fill="#4B5B6B"/><text class="rt"><tspan x="1160" y="3797">小红书家居装修风格介绍</tspan><tspan x="1160" y="3836">（小红书家居装修风格介</tspan><tspan x="1160" y="3876">绍文案）</tspan></text></g>
<g id="watermark">
<text class="wm" x="645" y="510" transform="rotate(-25 645 510)">树图 shutu.cn</text>
<text class="wm" x="1925" y="510" transform="rotate(-25 1925 510)">树图 shutu.cn</text>
<text class="wm" x="645" y="1512" transform="rotate(-25 645 1512)">树图 shutu.cn</text>
<text class="wm" x="1925" y="1512" transform="rotate(-25 1925 1512)">树图 shutu.cn</text>
<text class="wm" x="645" y="2514" transform="rotate(-25 645 2514)">树图 shutu.cn</text>
<text class="wm" x="1925" y="2514" transform="rotate(-25 1925 2514)">树图 shutu.cn</text>
<text class="wm" x="645" y="3516" transform="rotate(-25 645 3516)">树图 shutu.cn</text>
<text class="wm" x="1925" y="3516" transform="rotate(-25 1925 3516)">树图 shutu.cn</text>
<text class="wm" x="645" y="4518" transform="rotate(-25 645 4518)">树图 shutu.cn</text>
<text class="wm" x="1925" y="4518" transform="rotate(-25 1925 4518)">树图 shutu.cn</text>
<text class="wm" x="645" y="5520" transform="rotate(-25 645 5520)">树图 shutu.cn</text>
<text class="wm" x="1925" y="5520" transform="rotate(-25 1925 5520)">树图 shutu.cn</text>
<text class="wm" x="645" y="6522" transform="rotate(-25 645 6522)">树图 shutu.cn</text>
<text class="wm" x="1925" y="6522" transform="rotate(-25 1925 6522)">树图 shutu.cn</text>
<text class="wm" x="645" y="7524" transform="rotate(-25 645 7524)">树图 shutu.cn</text>
<text class="wm" x="1925" y="7524" transform="rotate(-25 1925 7524)">树图 shutu.cn</text>
</g>
</g>
</svg>
